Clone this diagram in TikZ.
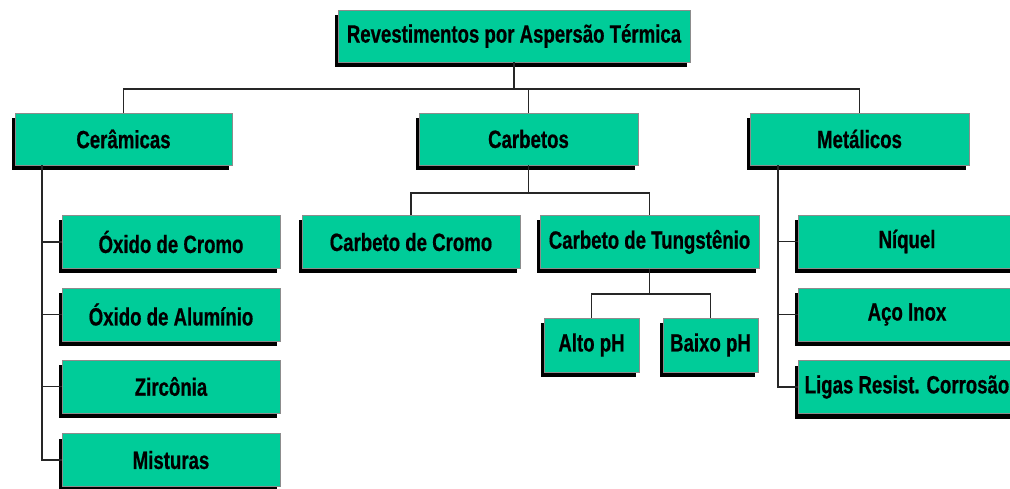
\documentclass[tikz,border=0pt]{standalone}
\usepackage{fontspec}
\setmainfont{Liberation Sans}[FakeStretch=0.745, BoldFeatures={FakeBold=0.6}]
\usetikzlibrary{shadows}
\definecolor{boxgreen}{HTML}{00CC99}
\definecolor{boxborder}{HTML}{8C8C8C}
\tikzset{
  box/.style={rectangle, draw=boxborder, line width=0.7pt, fill=boxgreen,
    inner sep=0pt, align=center, text=black,
    font=\fontsize{25}{29}\selectfont\bfseries,
    drop shadow={shadow xshift=-3.5pt, shadow yshift=-5pt, fill=black, opacity=1, draw=none}},
  conn/.style={draw=black!85, line width=1.6pt}
}
\begin{document}
\begin{tikzpicture}[x=1pt,y=-1pt]
\useasboundingbox (0,0) rectangle (1010,489);
% helper coordinates
\coordinate (bus) at (0,89);
\coordinate (cbus) at (0,193);
\coordinate (tbus) at (0,294);
\coordinate (cx) at (42,0);
\coordinate (mx) at (778,0);
\node[box, minimum width=352pt, minimum height=52pt] (top) at (514,36) {Revestimentos por Aspersão Térmica};
\draw[conn] (top.south) -- (top.south |- bus);
\path
 node[box, minimum width=217pt, minimum height=52pt] (cer) at (123.5,139) {Cerâmicas}
 node[box, minimum width=219pt, minimum height=52pt] (carb) at (528.5,139) {Carbetos}
 node[box, minimum width=219pt, minimum height=52pt] (met) at (859.5,139) {Metálicos};
\draw[conn] (cer.north) -- (cer.north |- bus) -- (met.north |- bus) -- (met.north);
\draw[conn] (carb.north) -- (carb.north |- bus);
\path
 node[box, minimum width=218pt, minimum height=53pt] (ox1) at (171,242) {Óxido de Cromo}
 node[box, minimum width=218pt, minimum height=53pt] (ox2) at (171,314.5) {Óxido de Alumínio}
 node[box, minimum width=218pt, minimum height=53pt] (zir) at (171,386.5) {Zircônia}
 node[box, minimum width=218pt, minimum height=53pt] (mis) at (171,460) {Misturas}
 node[box, minimum width=218pt, minimum height=53pt] (ccr) at (411,242) {Carbeto de Cromo}
 node[box, minimum width=219pt, minimum height=53pt] (ctu) at (649.5,242) {Carbeto de Tungstênio}
 node[box, minimum width=95pt, minimum height=54pt] (alto) at (591.5,345) {Alto pH}
 node[box, minimum width=95pt, minimum height=54pt] (baixo) at (710.5,345) {Baixo pH}
 node[box, minimum width=218pt, minimum height=53pt] (niq) at (907,241.5) {Níquel}
 node[box, minimum width=218pt, minimum height=53pt] (aco) at (907,314.5) {Aço Inox}
 node[box, minimum width=218pt, minimum height=53pt] (lig) at (907,387) {Ligas Resist. Corrosão};
% Cerâmicas children
\draw[conn] (cer.south -| cx) -- (mis.west -| cx) -- (mis.west);
\draw[conn] (ox1.west -| cx) -- (ox1.west);
\draw[conn] (ox2.west -| cx) -- (ox2.west);
\draw[conn] (zir.west -| cx) -- (zir.west);
% Carbetos children
\draw[conn] (carb.south) -- (carb.south |- cbus);
\draw[conn] (ccr.north) -- (ccr.north |- cbus) -- (ctu.north |- cbus) -- (ctu.north);
\draw[conn] (ctu.south) -- (ctu.south |- tbus);
\draw[conn] (alto.north) -- (alto.north |- tbus) -- (baixo.north |- tbus) -- (baixo.north);
% Metálicos children
\draw[conn] (met.south -| mx) -- (lig.west -| mx) -- (lig.west);
\draw[conn] (niq.west -| mx) -- (niq.west);
\draw[conn] (aco.west -| mx) -- (aco.west);
\end{tikzpicture}
\end{document}
